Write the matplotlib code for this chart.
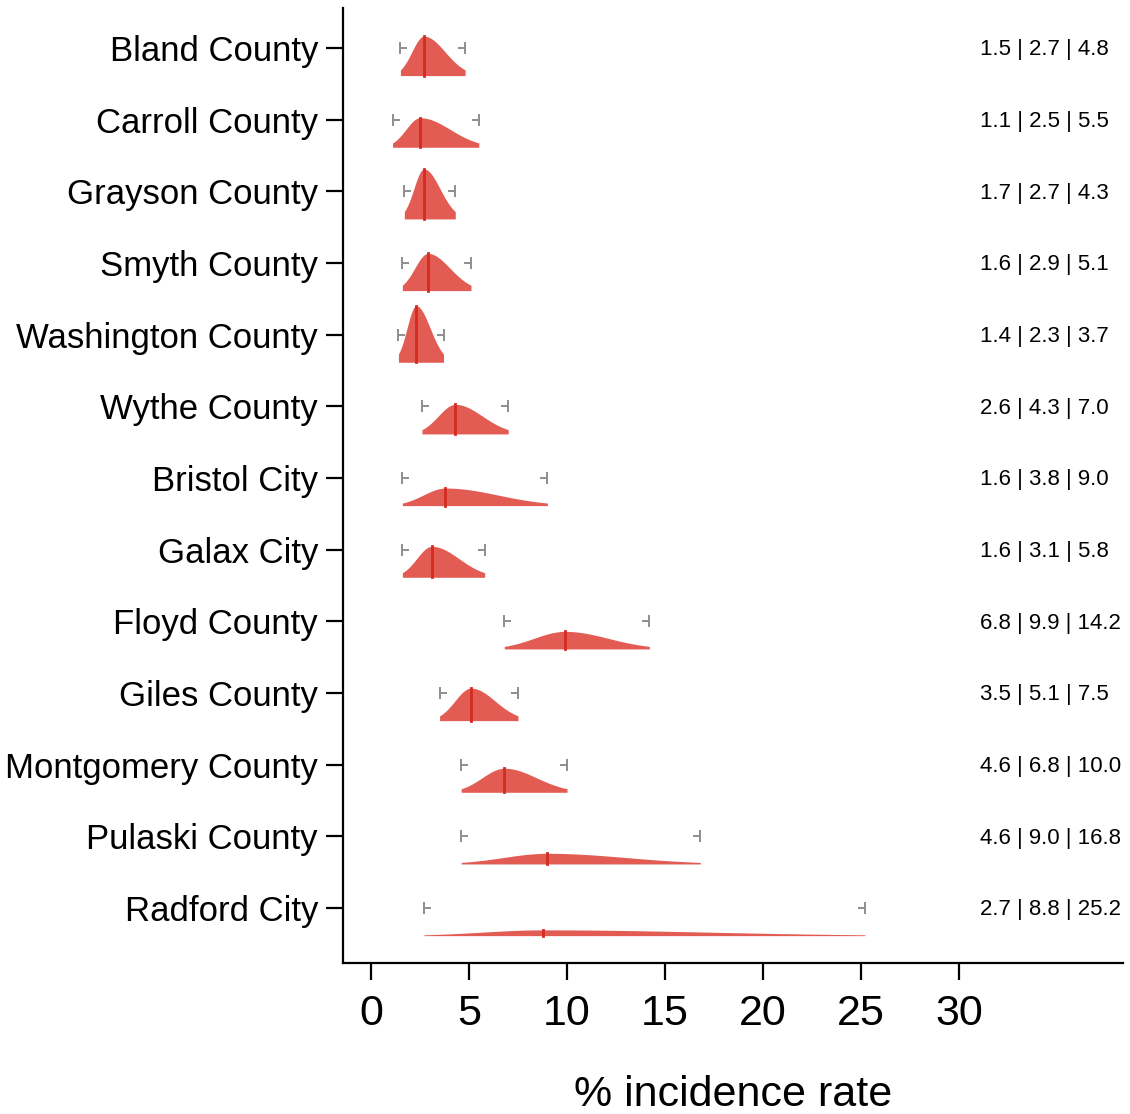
import numpy as np
import matplotlib.pyplot as plt
from matplotlib.path import Path

plt.rcParams['font.family'] = ['Liberation Sans', 'DejaVu Sans']

# -----------------------------
# Data (top to bottom)
# -----------------------------
places = ['Bland County', 'Carroll County', 'Grayson County', 'Smyth County',
          'Washington County', 'Wythe County', 'Bristol City', 'Galax City',
          'Floyd County', 'Giles County', 'Montgomery County', 'Pulaski County',
          'Radford City']
low = [1.5, 1.1, 1.7, 1.6, 1.4, 2.6, 1.6, 1.6, 6.8, 3.5, 4.6, 4.6, 2.7]
median = [2.7, 2.5, 2.7, 2.9, 2.3, 4.3, 3.8, 3.1, 9.9, 5.1, 6.8, 9.0, 8.8]
high = [4.8, 5.5, 4.3, 5.1, 3.7, 7.0, 9.0, 5.8, 14.2, 7.5, 10.0, 16.8, 25.2]
xticks = [0, 5, 10, 15, 20, 25, 30]

fill_col = '#e35c54'
med_col = '#d42b21'
cap_col = '#8e8e8e'

# cap markers: |- at the lower bound, -| at the upper bound
lo_cap = Path([(0, -0.85), (0, 0.85), (0, 0), (1, 0)],
              [Path.MOVETO, Path.LINETO, Path.MOVETO, Path.LINETO])
hi_cap = Path([(0, -0.85), (0, 0.85), (0, 0), (-1, 0)],
              [Path.MOVETO, Path.LINETO, Path.MOVETO, Path.LINETO])


def density(x, lo, md, hi):
    # split normal: mode at the median, 95% bounds on each side
    sl = (md - lo) / 1.96
    sh = (hi - md) / 1.96
    s = np.where(x < md, sl, sh)
    a = 2.0 / (np.sqrt(2 * np.pi) * (sl + sh))
    return a * np.exp(-(x - md) ** 2 / (2 * s ** 2))


fig = plt.figure(figsize=(11.3, 11.14), dpi=100)
ax = fig.add_axes([343 / 1130, (1114 - 963) / 1114, (1123 - 343) / 1130, (963 - 8) / 1114])

scale = 1.16   # density height in row units
offset = 0.385  # baseline below the row centre

for i, name in enumerate(places):
    xs = np.linspace(low[i], high[i], 300)
    d = density(xs, low[i], median[i], high[i])
    base = i + offset
    ax.fill_between(xs, base, base - scale * d, color=fill_col, lw=0)
    dm = density(np.array([median[i]]), low[i], median[i], high[i])[0]
    ax.plot([median[i], median[i]], [base, base - scale * dm], color=med_col, lw=2)
    ax.plot([low[i]], [i], marker=lo_cap, ms=10, color=cap_col, mew=1.4, ls='none')
    ax.plot([high[i]], [i], marker=hi_cap, ms=10, color=cap_col, mew=1.4, ls='none')
    ax.text(31.07, i + 0.025, '{:.1f} | {:.1f} | {:.1f}'.format(low[i], median[i], high[i]),
            fontsize=16, va='center', ha='left')

ax.set_xlim(-28 / 19.6, (1123 - 371) / 19.6)
ax.set_ylim((963 - 48) / 71.67, (8 - 48) / 71.67)

ax.set_yticks(range(len(places)))
ax.set_yticklabels(places, fontsize=25)
ax.set_xticks(xticks)
ax.set_xticklabels([str(t) for t in xticks], fontsize=31)
ax.set_xlabel('% incidence rate', fontsize=31, labelpad=30)

for side in ['top', 'right']:
    ax.spines[side].set_visible(False)
for side in ['left', 'bottom']:
    ax.spines[side].set_linewidth(1.6)
ax.tick_params(axis='both', length=12, width=1.6)
ax.tick_params(axis='y', pad=6)
ax.tick_params(axis='x', pad=10)

plt.savefig('out.png', dpi=100)
plt.close()
